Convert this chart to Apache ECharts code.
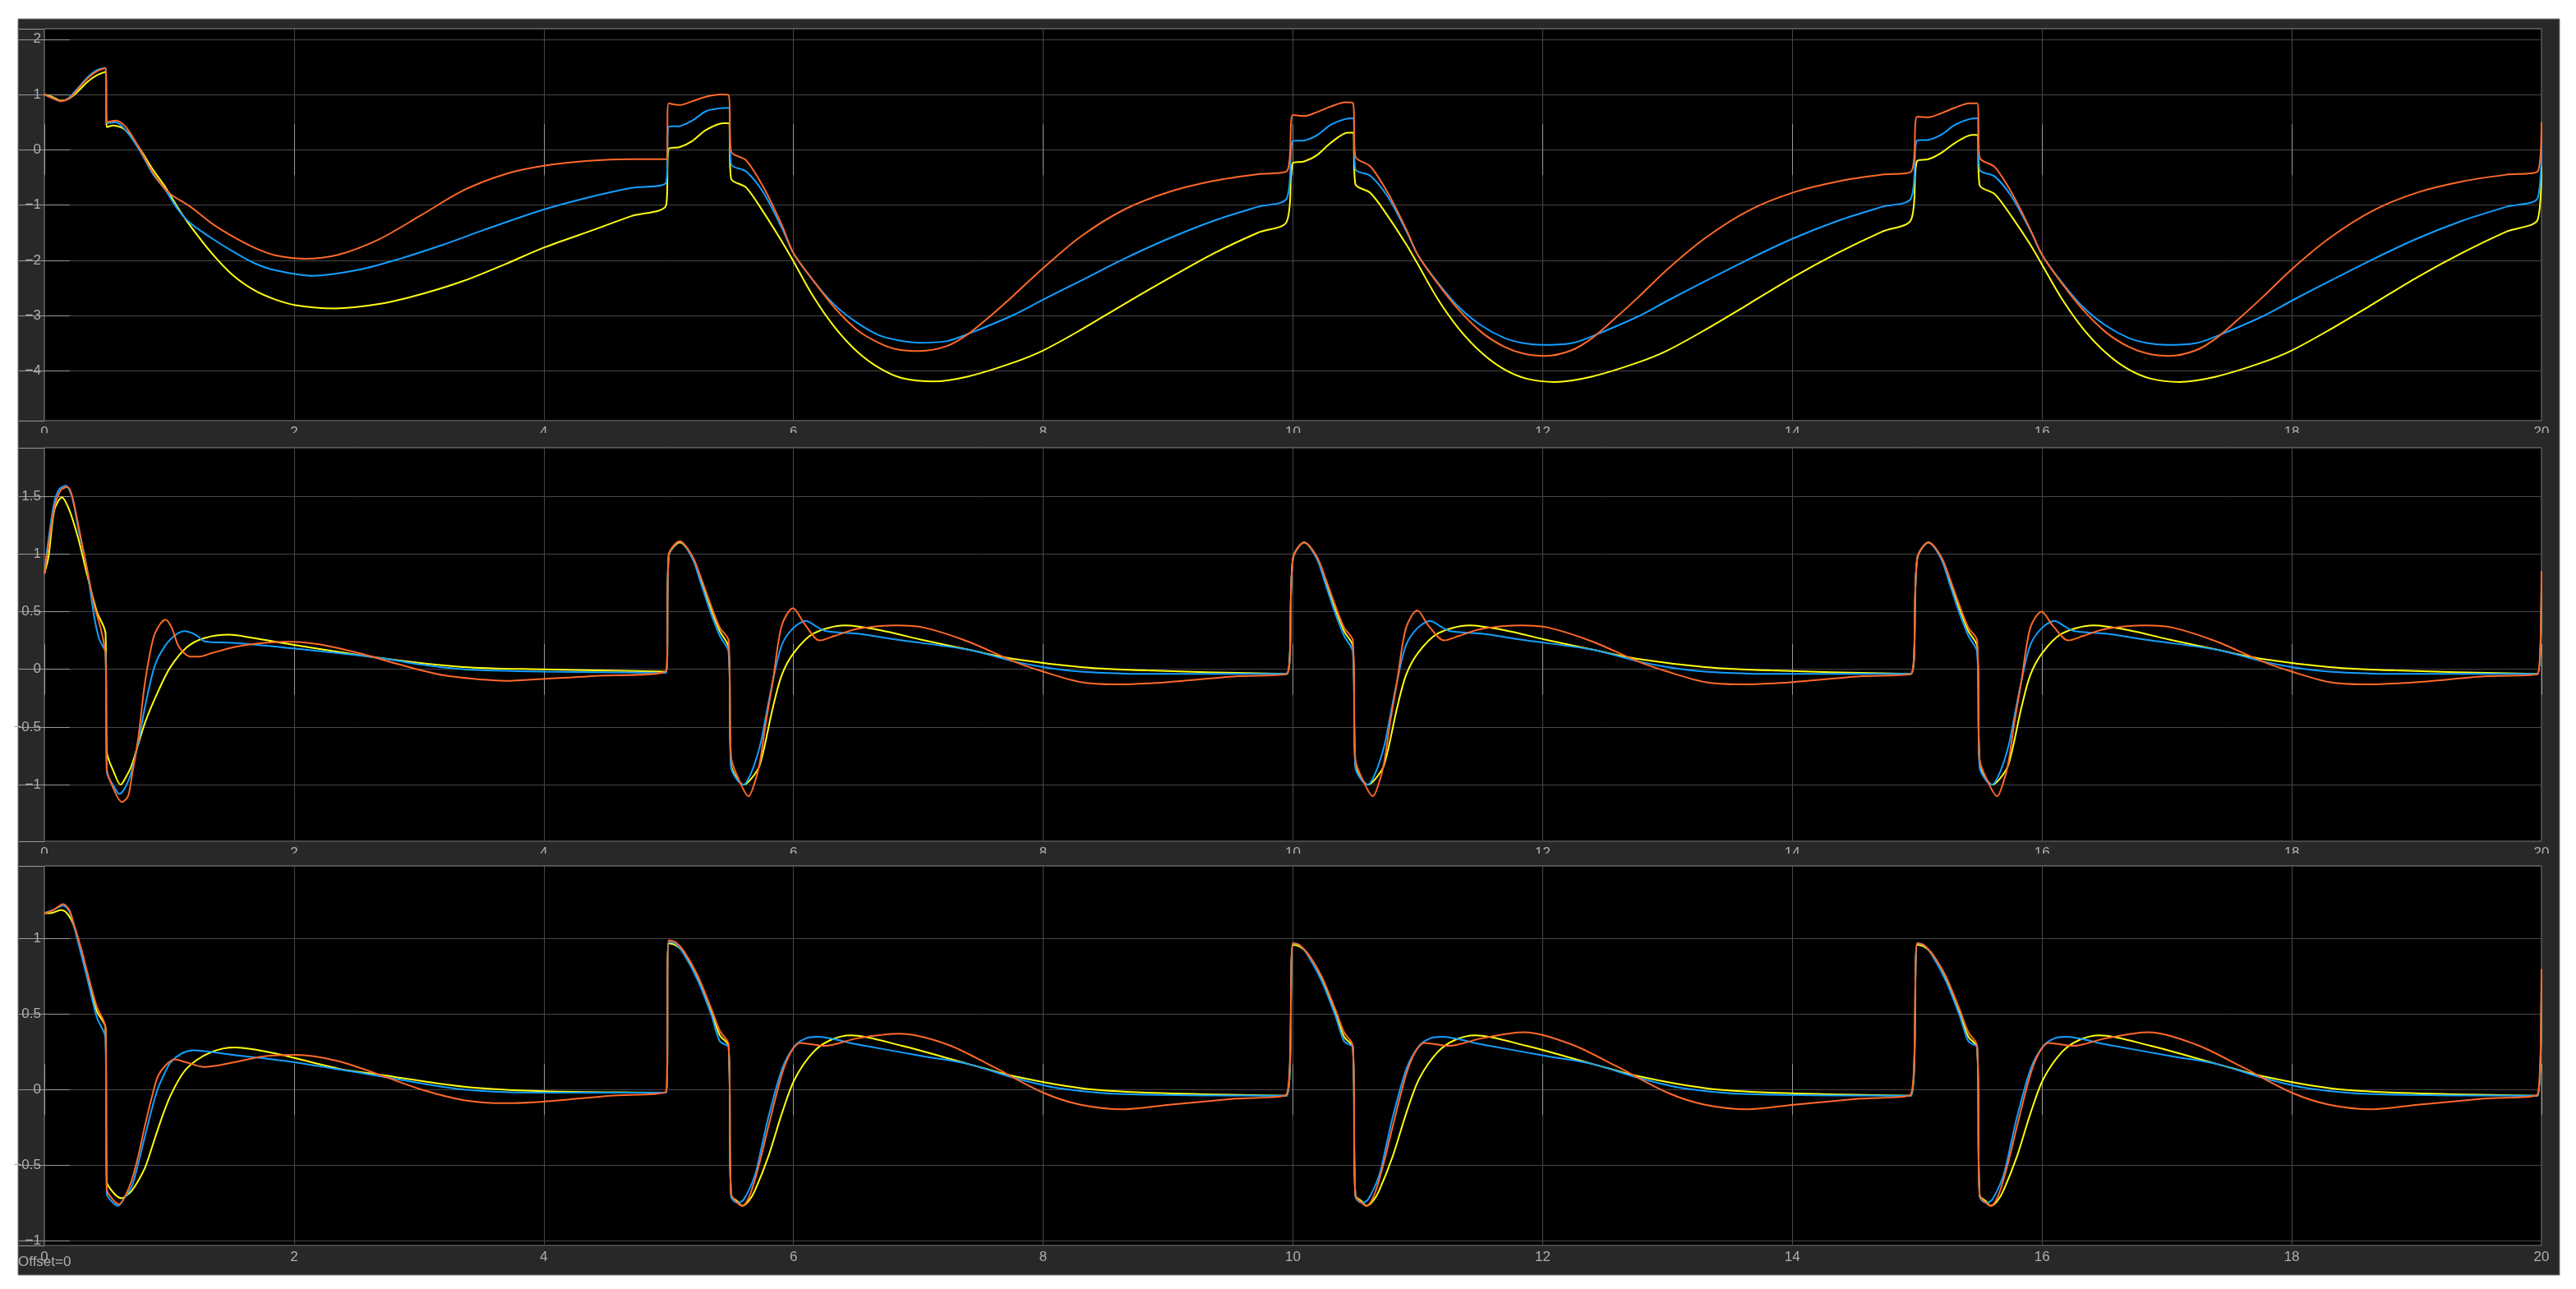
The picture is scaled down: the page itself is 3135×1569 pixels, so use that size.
<!DOCTYPE html>
<html>
<head>
<meta charset="utf-8">
<title>Scope</title>
<script src="https://cdn.jsdelivr.net/npm/echarts@6/dist/echarts.min.js"></script>
<style>
html, body { margin: 0; padding: 0; background: #fff; }
#chart { width: 3135px; height: 1569px; }
</style>
</head>
<body>
<div id="chart"></div>
<script>
// time axis (s)
const xRange = [0, 20]
const xStep = 2

// y ranges of the three scopes
const p1Range = [-4.9, 2.19]
const p2Range = [-1.49, 1.92]
const p3Range = [-1.033, 1.483]
const p1Step = 1
const p2Step = 0.5
const p3Step = 0.5

// panel 1
const p1Yellow = [[0,1.0],[0.07,0.95],[0.13,0.89],[0.2,0.93],[0.27,1.06],[0.35,1.24],[0.42,1.35],[0.49,1.41],[0.5,0.41],[0.55,0.44],[0.62,0.4],[0.67,0.31],[0.77,0.0],[0.87,-0.36],[0.97,-0.68],[1.07,-1.05],[1.17,-1.38],[1.34,-1.87],[1.51,-2.27],[1.68,-2.54],[1.85,-2.71],[2.01,-2.81],[2.32,-2.87],[2.68,-2.79],[3.02,-2.61],[3.36,-2.37],[3.69,-2.07],[4.0,-1.77],[4.36,-1.48],[4.7,-1.2],[4.98,-1.0],
  [5.0,0.02],[5.09,0.05],[5.19,0.16],[5.3,0.36],[5.44,0.48],[5.48,0.48],[5.5,-0.52],[5.62,-0.68],[5.76,-1.13],[5.91,-1.67],[6.0,-2.02],[6.16,-2.66],[6.33,-3.21],[6.51,-3.65],[6.69,-3.95],[6.87,-4.13],[7.12,-4.19],[7.4,-4.1],[7.76,-3.85],[8.0,-3.63],[8.3,-3.26],[8.65,-2.79],[9.01,-2.32],[9.37,-1.87],[9.72,-1.5],[9.95,-1.3],
  [10.0,-0.24],[10.09,-0.21],[10.19,-0.1],[10.3,0.12],[10.44,0.31],[10.48,0.31],[10.5,-0.62],[10.62,-0.78],[10.76,-1.2],[10.91,-1.72],[11.0,-2.07],[11.16,-2.7],[11.33,-3.24],[11.51,-3.67],[11.69,-3.97],[11.87,-4.14],[12.1,-4.2],[12.4,-4.1],[12.76,-3.85],[13.0,-3.63],[13.3,-3.26],[13.65,-2.79],[14.01,-2.3],[14.37,-1.86],[14.72,-1.48],[14.95,-1.27],
  [15.0,-0.2],[15.09,-0.17],[15.19,-0.06],[15.3,0.12],[15.44,0.27],[15.48,0.27],[15.5,-0.64],[15.62,-0.8],[15.76,-1.22],[15.91,-1.73],[16.0,-2.08],[16.16,-2.7],[16.33,-3.24],[16.51,-3.67],[16.69,-3.97],[16.87,-4.14],[17.1,-4.2],[17.4,-4.1],[17.76,-3.85],[18.0,-3.63],[18.3,-3.26],[18.65,-2.79],[19.01,-2.3],[19.37,-1.86],[19.72,-1.48],[19.97,-1.26],[20.0,-0.3]]
const p1Blue = [[0,1.0],[0.07,0.93],[0.13,0.88],[0.2,0.95],[0.27,1.12],[0.35,1.32],[0.42,1.44],[0.49,1.48],[0.5,0.48],[0.57,0.5],[0.67,0.3],[0.77,-0.04],[0.87,-0.44],[0.97,-0.73],[1.07,-1.08],[1.17,-1.33],[1.34,-1.6],[1.51,-1.84],[1.68,-2.05],[1.85,-2.18],[2.15,-2.28],[2.52,-2.17],[2.85,-1.97],[3.19,-1.72],[3.52,-1.45],[4.0,-1.08],[4.36,-0.86],[4.7,-0.69],[4.98,-0.59],
  [5.0,0.42],[5.09,0.43],[5.19,0.53],[5.3,0.7],[5.41,0.75],[5.48,0.76],[5.5,-0.26],[5.62,-0.39],[5.76,-0.78],[5.91,-1.43],[6.0,-1.87],[6.16,-2.37],[6.33,-2.81],[6.51,-3.13],[6.69,-3.36],[6.85,-3.45],[7.01,-3.49],[7.23,-3.46],[7.4,-3.33],[7.76,-2.99],[8.0,-2.71],[8.3,-2.37],[8.65,-1.97],[9.01,-1.6],[9.37,-1.28],[9.72,-1.03],[9.95,-0.88],
  [10.0,0.16],[10.09,0.17],[10.19,0.26],[10.3,0.45],[10.41,0.55],[10.48,0.57],[10.5,-0.35],[10.62,-0.47],[10.76,-0.85],[10.91,-1.48],[11.0,-1.9],[11.16,-2.4],[11.33,-2.85],[11.51,-3.18],[11.69,-3.4],[11.85,-3.5],[12.0,-3.53],[12.23,-3.5],[12.4,-3.37],[12.76,-3.02],[13.0,-2.73],[13.3,-2.38],[13.65,-1.98],[14.01,-1.6],[14.37,-1.28],[14.72,-1.03],[14.95,-0.88],
  [15.0,0.17],[15.09,0.18],[15.19,0.27],[15.3,0.45],[15.41,0.55],[15.48,0.57],[15.5,-0.36],[15.62,-0.48],[15.76,-0.86],[15.91,-1.48],[16.0,-1.9],[16.16,-2.4],[16.33,-2.85],[16.51,-3.18],[16.69,-3.4],[16.85,-3.5],[17.0,-3.53],[17.23,-3.5],[17.4,-3.37],[17.76,-3.02],[18.0,-2.73],[18.3,-2.38],[18.65,-1.98],[19.01,-1.6],[19.37,-1.28],[19.72,-1.03],[19.97,-0.87],[20.0,0.1]]
const p1Orange = [[0,1.0],[0.07,0.93],[0.13,0.88],[0.2,0.93],[0.27,1.1],[0.35,1.3],[0.42,1.42],[0.49,1.48],[0.5,0.5],[0.57,0.53],[0.65,0.42],[0.74,0.11],[0.84,-0.3],[0.92,-0.58],[1.01,-0.8],[1.17,-1.03],[1.34,-1.33],[1.51,-1.57],[1.68,-1.77],[1.85,-1.91],[2.08,-1.97],[2.35,-1.9],[2.68,-1.62],[3.02,-1.18],[3.36,-0.73],[3.69,-0.44],[4.0,-0.29],[4.36,-0.2],[4.7,-0.17],[4.98,-0.17],
  [5.0,0.84],[5.09,0.81],[5.19,0.88],[5.3,0.96],[5.41,1.0],[5.48,0.99],[5.5,-0.03],[5.62,-0.19],[5.76,-0.68],[5.91,-1.38],[6.0,-1.87],[6.16,-2.37],[6.33,-2.86],[6.51,-3.26],[6.69,-3.5],[6.83,-3.61],[7.01,-3.64],[7.23,-3.55],[7.4,-3.33],[7.58,-3.0],[7.76,-2.64],[8.0,-2.14],[8.3,-1.57],[8.65,-1.08],[9.01,-0.76],[9.37,-0.56],[9.72,-0.44],[9.95,-0.39],
  [10.0,0.63],[10.09,0.61],[10.19,0.68],[10.3,0.78],[10.42,0.86],[10.48,0.85],[10.5,-0.12],[10.62,-0.3],[10.76,-0.78],[10.91,-1.45],[11.0,-1.9],[11.16,-2.42],[11.33,-2.9],[11.51,-3.3],[11.69,-3.56],[11.85,-3.69],[12.02,-3.73],[12.23,-3.63],[12.4,-3.4],[12.58,-3.05],[12.76,-2.68],[13.0,-2.16],[13.3,-1.6],[13.65,-1.1],[14.01,-0.77],[14.37,-0.57],[14.72,-0.45],[14.95,-0.4],
  [15.0,0.6],[15.09,0.59],[15.19,0.66],[15.3,0.76],[15.42,0.84],[15.48,0.84],[15.5,-0.14],[15.62,-0.31],[15.76,-0.79],[15.91,-1.46],[16.0,-1.9],[16.16,-2.42],[16.33,-2.9],[16.51,-3.3],[16.69,-3.56],[16.85,-3.69],[17.02,-3.73],[17.23,-3.63],[17.4,-3.4],[17.58,-3.05],[17.76,-2.68],[18.0,-2.16],[18.3,-1.6],[18.65,-1.1],[19.01,-0.77],[19.37,-0.57],[19.72,-0.45],[19.97,-0.39],[20.0,0.5]]

// panel 2
const p2Yellow = [[0,0.83],[0.034,0.98],[0.08,1.38],[0.14,1.49],[0.2,1.38],[0.27,1.14],[0.34,0.83],[0.42,0.5],[0.49,0.31],[0.5,-0.71],[0.56,-0.9],[0.61,-1.0],[0.66,-0.92],[0.7,-0.83],[0.81,-0.45],[0.92,-0.17],[1.01,0.02],[1.14,0.19],[1.28,0.27],[1.48,0.3],[1.68,0.27],[2.01,0.21],[2.68,0.1],[3.36,0.02],[4.0,0.0],[4.98,-0.02],
  [5.0,0.98],[5.09,1.1],[5.19,0.97],[5.26,0.77],[5.34,0.52],[5.41,0.33],[5.48,0.19],[5.5,-0.83],[5.55,-0.95],[5.6,-1.0],[5.66,-0.95],[5.73,-0.83],[5.835,-0.33],[5.906,-0.05],[6.0,0.14],[6.16,0.31],[6.41,0.38],[6.69,0.34],[7.05,0.25],[7.4,0.17],[7.76,0.09],[8.3,0.02],[8.83,-0.01],[9.95,-0.04],
  [10.0,0.96],[10.09,1.1],[10.19,0.97],[10.26,0.77],[10.34,0.52],[10.41,0.33],[10.48,0.2],[10.5,-0.83],[10.55,-0.95],[10.6,-1.0],[10.66,-0.95],[10.73,-0.83],[10.835,-0.33],[10.906,-0.05],[11.0,0.14],[11.16,0.31],[11.41,0.38],[11.69,0.34],[12.05,0.25],[12.4,0.17],[12.76,0.09],[13.3,0.02],[13.83,-0.01],[14.95,-0.04],
  [15.0,0.96],[15.09,1.1],[15.19,0.97],[15.26,0.77],[15.34,0.52],[15.41,0.33],[15.48,0.2],[15.5,-0.83],[15.55,-0.95],[15.6,-1.0],[15.66,-0.95],[15.73,-0.83],[15.835,-0.33],[15.906,-0.05],[16.0,0.14],[16.16,0.31],[16.41,0.38],[16.69,0.34],[17.05,0.25],[17.4,0.17],[17.76,0.09],[18.3,0.02],[18.83,-0.01],[19.97,-0.04],[20.0,0.8]]
const p2Blue = [[0,0.83],[0.03,1.1],[0.08,1.45],[0.12,1.56],[0.17,1.59],[0.22,1.5],[0.27,1.23],[0.34,0.88],[0.4,0.45],[0.44,0.26],[0.49,0.14],[0.5,-0.89],[0.56,-1.02],[0.6,-1.08],[0.65,-1.02],[0.7,-0.88],[0.755,-0.62],[0.805,-0.33],[0.87,-0.02],[0.92,0.12],[1.01,0.26],[1.12,0.33],[1.21,0.3],[1.29,0.24],[1.51,0.23],[2.01,0.18],[2.68,0.1],[3.02,0.04],[3.36,0.0],[4.0,-0.02],[4.98,-0.03],
  [5.0,0.98],[5.09,1.11],[5.19,0.96],[5.26,0.74],[5.34,0.48],[5.41,0.29],[5.48,0.15],[5.5,-0.85],[5.55,-0.96],[5.6,-1.0],[5.66,-0.9],[5.73,-0.67],[5.78,-0.4],[5.835,-0.1],[5.906,0.21],[6.0,0.36],[6.1,0.42],[6.17,0.38],[6.26,0.33],[6.51,0.31],[6.87,0.25],[7.4,0.17],[7.76,0.07],[8.0,0.02],[8.3,-0.02],[8.83,-0.04],[9.95,-0.04],
  [10.0,0.96],[10.09,1.1],[10.19,0.96],[10.26,0.74],[10.34,0.48],[10.41,0.29],[10.48,0.15],[10.5,-0.85],[10.55,-0.96],[10.6,-1.0],[10.66,-0.9],[10.73,-0.67],[10.78,-0.4],[10.835,-0.1],[10.906,0.21],[11.0,0.36],[11.1,0.42],[11.17,0.38],[11.26,0.33],[11.51,0.31],[11.87,0.25],[12.4,0.17],[12.76,0.07],[13.0,0.02],[13.3,-0.02],[13.83,-0.04],[14.95,-0.04],
  [15.0,0.96],[15.09,1.1],[15.19,0.96],[15.26,0.74],[15.34,0.48],[15.41,0.29],[15.48,0.15],[15.5,-0.85],[15.55,-0.96],[15.6,-1.0],[15.66,-0.9],[15.73,-0.67],[15.78,-0.4],[15.835,-0.1],[15.906,0.21],[16.0,0.36],[16.1,0.42],[16.17,0.38],[16.26,0.33],[16.51,0.31],[16.87,0.25],[17.4,0.17],[17.76,0.07],[18.0,0.02],[18.3,-0.02],[18.83,-0.04],[19.97,-0.04],[20.0,0.8]]
const p2Orange = [[0,0.83],[0.03,1.05],[0.08,1.4],[0.13,1.55],[0.185,1.58],[0.22,1.51],[0.27,1.26],[0.34,0.88],[0.4,0.55],[0.45,0.36],[0.49,0.12],[0.5,-0.86],[0.56,-1.05],[0.62,-1.15],[0.67,-1.1],[0.7,-0.93],[0.755,-0.57],[0.805,-0.12],[0.87,0.26],[0.92,0.38],[0.97,0.43],[1.02,0.36],[1.07,0.21],[1.12,0.14],[1.17,0.11],[1.24,0.11],[1.34,0.14],[1.51,0.19],[1.68,0.22],[1.95,0.24],[2.18,0.22],[2.52,0.14],[2.85,0.04],[3.19,-0.05],[3.52,-0.09],[3.69,-0.1],[4.03,-0.08],[4.36,-0.06],[4.98,-0.01],
  [5.0,0.99],[5.09,1.11],[5.19,0.98],[5.26,0.79],[5.34,0.55],[5.41,0.36],[5.48,0.25],[5.5,-0.76],[5.56,-0.95],[5.64,-1.1],[5.69,-0.98],[5.73,-0.81],[5.78,-0.45],[5.835,-0.1],[5.906,0.38],[5.996,0.53],[6.085,0.4],[6.21,0.25],[6.33,0.29],[6.51,0.35],[6.83,0.38],[7.05,0.36],[7.4,0.24],[7.76,0.07],[8.0,-0.02],[8.3,-0.11],[8.58,-0.13],[9.01,-0.11],[9.54,-0.06],[9.95,-0.04],
  [10.0,0.96],[10.09,1.1],[10.19,0.98],[10.26,0.79],[10.34,0.55],[10.41,0.36],[10.48,0.25],[10.5,-0.78],[10.56,-0.96],[10.64,-1.1],[10.69,-0.98],[10.73,-0.81],[10.78,-0.45],[10.835,-0.1],[10.906,0.36],[10.996,0.51],[11.085,0.38],[11.21,0.25],[11.33,0.29],[11.51,0.35],[11.83,0.38],[12.05,0.36],[12.4,0.24],[12.76,0.07],[13.0,-0.02],[13.3,-0.11],[13.58,-0.13],[14.01,-0.11],[14.54,-0.06],[14.95,-0.04],
  [15.0,0.96],[15.09,1.1],[15.19,0.98],[15.26,0.79],[15.34,0.55],[15.41,0.36],[15.48,0.25],[15.5,-0.78],[15.56,-0.96],[15.64,-1.1],[15.69,-0.98],[15.73,-0.81],[15.78,-0.45],[15.835,-0.1],[15.906,0.36],[15.996,0.5],[16.085,0.38],[16.21,0.25],[16.33,0.29],[16.51,0.35],[16.83,0.38],[17.05,0.36],[17.4,0.24],[17.76,0.07],[18.0,-0.02],[18.3,-0.11],[18.58,-0.13],[19.01,-0.11],[19.54,-0.06],[19.97,-0.04],[20.0,0.85]]

// panel 3
const p3Yellow = [[0,1.17],[0.05,1.17],[0.13,1.19],[0.18,1.17],[0.235,1.09],[0.3,0.9],[0.34,0.77],[0.42,0.52],[0.49,0.41],[0.5,-0.61],[0.56,-0.69],[0.62,-0.72],[0.66,-0.7],[0.7,-0.67],[0.755,-0.6],[0.81,-0.51],[0.91,-0.26],[1.01,-0.04],[1.14,0.14],[1.34,0.25],[1.53,0.28],[1.85,0.24],[2.35,0.14],[2.68,0.1],[3.36,0.02],[4.0,-0.01],[4.98,-0.02],
  [5.0,0.97],[5.05,0.96],[5.12,0.91],[5.23,0.75],[5.34,0.52],[5.41,0.36],[5.48,0.29],[5.5,-0.7],[5.55,-0.74],[5.59,-0.77],[5.64,-0.74],[5.69,-0.67],[5.8,-0.44],[5.91,-0.15],[6.01,0.07],[6.16,0.25],[6.3,0.33],[6.46,0.36],[6.87,0.29],[7.4,0.17],[7.76,0.09],[8.3,0.01],[8.83,-0.02],[9.95,-0.04],
  [10.0,0.96],[10.05,0.95],[10.12,0.9],[10.23,0.74],[10.34,0.51],[10.41,0.35],[10.48,0.28],[10.5,-0.7],[10.55,-0.74],[10.59,-0.77],[10.64,-0.74],[10.69,-0.67],[10.8,-0.44],[10.91,-0.15],[11.01,0.07],[11.16,0.25],[11.3,0.33],[11.46,0.36],[11.87,0.29],[12.4,0.17],[12.76,0.09],[13.3,0.01],[13.83,-0.02],[14.95,-0.04],
  [15.0,0.96],[15.05,0.95],[15.12,0.9],[15.23,0.74],[15.34,0.51],[15.41,0.35],[15.48,0.28],[15.5,-0.7],[15.55,-0.74],[15.59,-0.77],[15.64,-0.74],[15.69,-0.67],[15.8,-0.44],[15.91,-0.15],[16.01,0.07],[16.16,0.25],[16.3,0.33],[16.46,0.36],[16.87,0.29],[17.4,0.17],[17.76,0.09],[18.3,0.01],[18.83,-0.02],[19.97,-0.04],[20.0,0.78]]
const p3Blue = [[0,1.17],[0.07,1.19],[0.15,1.22],[0.2,1.18],[0.235,1.09],[0.3,0.88],[0.34,0.75],[0.42,0.48],[0.49,0.34],[0.5,-0.69],[0.55,-0.75],[0.59,-0.77],[0.64,-0.72],[0.7,-0.64],[0.755,-0.48],[0.805,-0.31],[0.87,-0.1],[0.91,0.01],[0.97,0.12],[1.01,0.18],[1.1,0.24],[1.19,0.26],[1.51,0.23],[2.01,0.18],[2.68,0.09],[3.36,0.0],[4.0,-0.02],[4.98,-0.02],
  [5.0,0.98],[5.05,0.97],[5.12,0.9],[5.23,0.73],[5.34,0.5],[5.41,0.32],[5.48,0.28],[5.5,-0.71],[5.55,-0.75],[5.6,-0.73],[5.69,-0.57],[5.745,-0.38],[5.8,-0.18],[5.91,0.14],[6.01,0.29],[6.1,0.34],[6.19,0.35],[6.51,0.3],[7.05,0.22],[7.4,0.17],[7.76,0.08],[8.12,0.01],[8.65,-0.03],[9.95,-0.04],
  [10.0,0.97],[10.05,0.96],[10.12,0.89],[10.23,0.72],[10.34,0.49],[10.41,0.32],[10.48,0.28],[10.5,-0.71],[10.55,-0.75],[10.6,-0.73],[10.69,-0.57],[10.745,-0.38],[10.8,-0.18],[10.91,0.14],[11.01,0.29],[11.1,0.34],[11.19,0.35],[11.51,0.3],[12.05,0.22],[12.4,0.17],[12.76,0.08],[13.12,0.01],[13.65,-0.03],[14.95,-0.04],
  [15.0,0.97],[15.05,0.96],[15.12,0.89],[15.23,0.72],[15.34,0.49],[15.41,0.32],[15.48,0.28],[15.5,-0.71],[15.55,-0.75],[15.6,-0.73],[15.69,-0.57],[15.745,-0.38],[15.8,-0.18],[15.91,0.14],[16.01,0.29],[16.1,0.34],[16.19,0.35],[16.51,0.3],[17.05,0.22],[17.4,0.17],[17.76,0.08],[18.12,0.01],[18.65,-0.03],[19.97,-0.04],[20.0,0.78]]
const p3Orange = [[0,1.17],[0.07,1.19],[0.15,1.23],[0.2,1.19],[0.235,1.1],[0.3,0.92],[0.34,0.79],[0.42,0.55],[0.49,0.41],[0.5,-0.66],[0.55,-0.73],[0.6,-0.76],[0.65,-0.7],[0.7,-0.6],[0.755,-0.43],[0.805,-0.24],[0.87,-0.02],[0.91,0.09],[0.97,0.16],[1.04,0.2],[1.14,0.18],[1.28,0.15],[1.51,0.18],[1.75,0.22],[2.01,0.23],[2.35,0.19],[2.68,0.1],[3.02,0.0],[3.36,-0.07],[3.69,-0.09],[4.0,-0.08],[4.53,-0.04],[4.98,-0.01],
  [5.0,0.99],[5.05,0.98],[5.12,0.92],[5.23,0.76],[5.34,0.54],[5.41,0.39],[5.48,0.3],[5.5,-0.69],[5.55,-0.75],[5.59,-0.77],[5.64,-0.72],[5.69,-0.6],[5.745,-0.43],[5.8,-0.24],[5.91,0.11],[5.98,0.25],[6.05,0.31],[6.15,0.3],[6.25,0.29],[6.51,0.34],[6.85,0.37],[7.23,0.3],[7.58,0.16],[8.0,-0.02],[8.3,-0.1],[8.65,-0.13],[9.01,-0.1],[9.54,-0.06],[9.95,-0.03],
  [10.0,0.97],[10.05,0.96],[10.12,0.9],[10.23,0.75],[10.34,0.53],[10.41,0.38],[10.48,0.29],[10.5,-0.7],[10.55,-0.75],[10.59,-0.77],[10.64,-0.72],[10.69,-0.6],[10.745,-0.43],[10.8,-0.24],[10.91,0.11],[10.98,0.25],[11.05,0.31],[11.15,0.3],[11.25,0.29],[11.51,0.34],[11.85,0.38],[12.23,0.3],[12.58,0.16],[13.0,-0.02],[13.3,-0.1],[13.65,-0.13],[14.01,-0.1],[14.54,-0.06],[14.95,-0.03],
  [15.0,0.97],[15.05,0.96],[15.12,0.9],[15.23,0.75],[15.34,0.53],[15.41,0.38],[15.48,0.29],[15.5,-0.7],[15.55,-0.75],[15.59,-0.77],[15.64,-0.72],[15.69,-0.6],[15.745,-0.43],[15.8,-0.24],[15.91,0.11],[15.98,0.25],[16.05,0.31],[16.15,0.3],[16.25,0.29],[16.51,0.34],[16.85,0.38],[17.23,0.3],[17.58,0.16],[18.0,-0.02],[18.3,-0.1],[18.65,-0.13],[19.01,-0.1],[19.54,-0.06],[19.97,-0.03],[20.0,0.8]]

const lineColors = ['#ffff11', '#139fff', '#ff6929']  // yellow, blue, orange
const labelFont = '"Liberation Sans", Arial, sans-serif'

const panels = [
  { top: 35, height: 477, range: p1Range, step: p1Step, lines: [p1Yellow, p1Blue, p1Orange] },
  { top: 545, height: 479, range: p2Range, step: p2Step, lines: [p2Yellow, p2Blue, p2Orange] },
  { top: 1054, height: 462, range: p3Range, step: p3Step, lines: [p3Yellow, p3Blue, p3Orange] }
]

// repeat both ends of the switching edges (dt < 0.025) so the smoothing keeps them straight
const sharpSteps = d => {
  const out = []
  d.forEach((pt, j) => {
    out.push(pt)
    const prev = d[j - 1], next = d[j + 1]
    if ((prev && pt[0] - prev[0] < 0.025) || (next && next[0] - pt[0] < 0.025)) out.push(pt)
  })
  return out
}

const chart = echarts.init(document.getElementById('chart'))

const tickStyle = { inside: true, length: 31, lineStyle: { color: '#9a9a9a', width: 1 } }
const gridLine = { show: true, lineStyle: { color: '#474747', width: 1 } }
const labelStyle = { color: '#afafaf', fontSize: 17, fontFamily: labelFont }
// scope labels use a real minus sign, wider than the hyphen
const fmt = v => (v < 0 ? '\u2212' : '') + Math.abs(v)

const grid = [], xAxis = [], yAxis = [], series = []

panels.forEach((p, i) => {
  grid.push({
    left: 54, top: p.top, width: 3039, height: p.height,
    show: true, backgroundColor: '#000', borderColor: '#8c8c8c', borderWidth: 1
  })
  // bottom / top time axes
  xAxis.push({
    gridIndex: i, type: 'value', position: 'bottom', min: xRange[0], max: xRange[1], interval: xStep,
    axisLine: { show: false }, axisTick: tickStyle, splitLine: gridLine,
    axisLabel: Object.assign({ margin: 6 }, labelStyle)
  })
  xAxis.push({
    gridIndex: i, type: 'value', position: 'top', min: xRange[0], max: xRange[1], interval: xStep,
    axisLine: { show: false }, axisTick: tickStyle, splitLine: { show: false }, axisLabel: { show: false }
  })
  // left / right value axes (min is not on the step, so force the step with min/maxInterval)
  yAxis.push({
    gridIndex: i, type: 'value', position: 'left', min: p.range[0], max: p.range[1],
    minInterval: p.step, maxInterval: p.step,
    axisLine: { show: false }, axisTick: tickStyle, splitLine: gridLine,
    axisLabel: Object.assign({ margin: 4, showMinLabel: false, showMaxLabel: false, formatter: fmt }, labelStyle)
  })
  yAxis.push({
    gridIndex: i, type: 'value', position: 'right', min: p.range[0], max: p.range[1],
    minInterval: p.step, maxInterval: p.step,
    axisLine: { show: false }, axisTick: tickStyle, splitLine: { show: false }, axisLabel: { show: false }
  })
  p.lines.forEach((d, k) => {
    series.push({
      type: 'line', xAxisIndex: 2 * i, yAxisIndex: 2 * i, data: sharpSteps(d),
      showSymbol: false, smooth: 0.3, clip: true,
      lineStyle: { color: lineColors[k], width: 2 },
      itemStyle: { color: lineColors[k] }
    })
  })
})

// the dark scope frame, the bands that cut the upper time labels, and the offset note
const graphic = [
  { type: 'rect', z: -10, shape: { x: 22, y: 23, width: 3093, height: 1529 },
    style: { fill: '#282828', stroke: '#7a7a7a', lineWidth: 1 } },
  { type: 'rect', z: 50, shape: { x: 23, y: 527, width: 3091, height: 17 }, style: { fill: '#282828' } },
  { type: 'rect', z: 50, shape: { x: 23, y: 1039, width: 3091, height: 14 }, style: { fill: '#282828' } },
  { type: 'text', z: 60, x: 22, y: 1536,
    style: { text: 'Offset=0', fill: '#afafaf', font: '17px ' + labelFont, verticalAlign: 'middle' } }
]

chart.setOption({
  backgroundColor: '#fff',
  animation: false,
  grid, xAxis, yAxis, series, graphic
})
</script>
</body>
</html>
